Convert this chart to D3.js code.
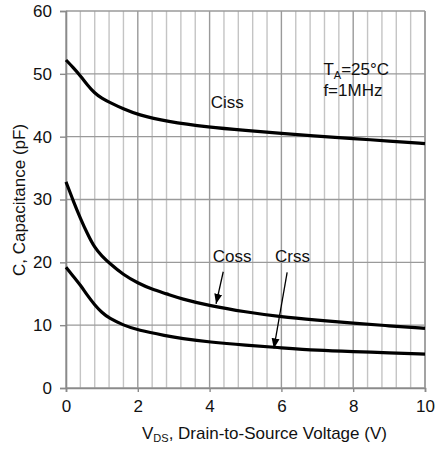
<!DOCTYPE html>
<html>
<head>
<meta charset="utf-8">
<script src="https://cdn.jsdelivr.net/npm/d3@7"></script>
<style>
  body { margin: 0; background: #fff; }
  text { font-family: "Liberation Sans", Arial, sans-serif; fill: #111; }
</style>
</head>
<body>
<script>
// curve data (V, pF)
var vdsCiss = [0, 0.2, 0.4, 0.6, 0.8, 1.0, 1.2, 1.6, 2.0, 2.8, 4, 5, 6, 7, 8, 9, 10];
var ciss    = [52.2, 51.0, 49.7, 48.2, 46.9, 46.1, 45.5, 44.4, 43.5, 42.4, 41.5, 41.0, 40.5, 40.1, 39.7, 39.3, 38.9];

var vdsCoss = [0, 0.2, 0.4, 0.6, 0.8, 1.0, 1.2, 1.6, 2.0, 2.4, 2.8, 3.2, 4, 5, 6, 7, 8, 9, 10];
var coss    = [32.8, 29.8, 27.0, 24.5, 22.3, 21.0, 19.9, 18.0, 16.7, 15.7, 15.0, 14.2, 13.1, 12.1, 11.3, 10.8, 10.3, 9.9, 9.5];

var vdsCrss = [0, 0.2, 0.4, 0.6, 0.8, 1.0, 1.2, 1.6, 2.0, 2.8, 3.2, 4, 5, 6, 7, 8, 9, 10];
var crss    = [19.2, 17.8, 16.4, 14.7, 13.2, 12.0, 11.1, 10.0, 9.2, 8.3, 7.9, 7.3, 6.8, 6.4, 6.0, 5.8, 5.6, 5.4];

var xTicks = [0, 2, 4, 6, 8, 10];
var yTicks = [0, 10, 20, 30, 40, 50, 60];

// set the dimensions and margins of the graph
var margin = {top: 11, right: 12, bottom: 62, left: 66},
    width = 437 - margin.left - margin.right,
    height = 450 - margin.top - margin.bottom;

var x = d3.scaleLinear().domain([0, 10]).range([0, width]);
var y = d3.scaleLinear().domain([0, 60]).range([height, 0]);

var svg = d3.select("body").append("svg")
    .attr("width", 437)
    .attr("height", 450);

svg.append("defs").append("marker")
    .attr("id", "arrow")
    .attr("viewBox", "0 0 10 10")
    .attr("refX", 10).attr("refY", 5)
    .attr("markerWidth", 10).attr("markerHeight", 10)
    .attr("markerUnits", "userSpaceOnUse")
    .attr("orient", "auto")
    .append("path")
    .attr("d", "M0,1 L10,5 L0,9 Z")
    .attr("fill", "#000");

var g = svg.append("g")
    .attr("transform", "translate(" + margin.left + "," + margin.top + ")");

// minor vertical grid every 0.4 V
var minor = d3.range(0, 10.001, 0.4).map(function(d) { return +d.toFixed(1); });
g.selectAll(".vminor")
    .data(minor)
    .enter().append("line")
    .attr("x1", function(d) { return x(d); })
    .attr("x2", function(d) { return x(d); })
    .attr("y1", 0).attr("y2", height)
    .attr("stroke", function(d) { return (d % 2 === 0) ? "#9a9a9a" : "#c4c4c4"; })
    .attr("stroke-width", 1.4);

// horizontal grid
g.selectAll(".hgrid")
    .data(yTicks)
    .enter().append("line")
    .attr("x1", 0).attr("x2", width)
    .attr("y1", function(d) { return y(d); })
    .attr("y2", function(d) { return y(d); })
    .attr("stroke", "#9a9a9a")
    .attr("stroke-width", 1.4);

// right border
g.append("line")
    .attr("x1", width).attr("x2", width)
    .attr("y1", 0).attr("y2", height)
    .attr("stroke", "#9a9a9a").attr("stroke-width", 1.4);

// axes
var yAxis = g.append("g")
    .call(d3.axisLeft(y).tickValues(yTicks).tickSize(6).tickPadding(8));
var xAxis = g.append("g")
    .attr("transform", "translate(0," + height + ")")
    .call(d3.axisBottom(x).tickValues(xTicks).tickSize(4).tickPadding(8));

[yAxis, xAxis].forEach(function(ax) {
    ax.select(".domain").attr("stroke", "#8a8a8a").attr("stroke-width", 1.6);
    ax.selectAll(".tick line").attr("stroke", "#8a8a8a").attr("stroke-width", 1.4);
    ax.selectAll(".tick text")
        .attr("font-size", "17px")
        .attr("font-family", "Liberation Sans, Arial, sans-serif")
        .attr("fill", "#111");
});

// curves
var line = d3.line()
    .x(function(d) { return x(d[0]); })
    .y(function(d) { return y(d[1]); })
    .curve(d3.curveBasis);

[[vdsCiss, ciss], [vdsCoss, coss], [vdsCrss, crss]].forEach(function(s) {
    g.append("path")
        .datum(s[0].map(function(v, i) { return [v, s[1][i]]; }))
        .attr("d", line)
        .attr("fill", "none")
        .attr("stroke", "#000")
        .attr("stroke-width", 3.2);
});

// labels
function label(txt, vx, vy) {
    return g.append("text")
        .attr("x", x(vx)).attr("y", y(vy))
        .attr("font-size", "17px")
        .text(txt);
}
label("Ciss", 4.03, 44.6);
label("Coss", 4.09, 20.1);
label("Crss", 5.82, 20.05);

var ta = g.append("text")
    .attr("x", x(7.17)).attr("y", y(49.8))
    .attr("font-size", "17px");
ta.append("tspan").text("T");
ta.append("tspan").attr("font-size", "11px").attr("dy", "4").text("A");
ta.append("tspan").attr("dy", "-4").text("=25°C");
label("f=1MHz", 7.17, 46.4);

// arrows
[[4.38, 18.5, 4.18, 13.4], [6.16, 18.4, 5.79, 6.3]].forEach(function(a) {
    g.append("line")
        .attr("x1", x(a[0])).attr("y1", y(a[1]))
        .attr("x2", x(a[2])).attr("y2", y(a[3]))
        .attr("stroke", "#000").attr("stroke-width", 1.3)
        .attr("marker-end", "url(#arrow)");
});

// axis titles
var xt = svg.append("text")
    .attr("x", 142).attr("y", 439)
    .attr("font-size", "17px");
xt.append("tspan").text("V");
xt.append("tspan").attr("font-size", "11px").attr("dy", "3").text("DS");
xt.append("tspan").attr("dy", "-3").text(", Drain-to-Source Voltage (V)");

svg.append("text")
    .attr("transform", "translate(25,200) rotate(-90)")
    .attr("text-anchor", "middle")
    .attr("font-size", "17px")
    .text("C, Capacitance (pF)");
</script>
</body>
</html>
